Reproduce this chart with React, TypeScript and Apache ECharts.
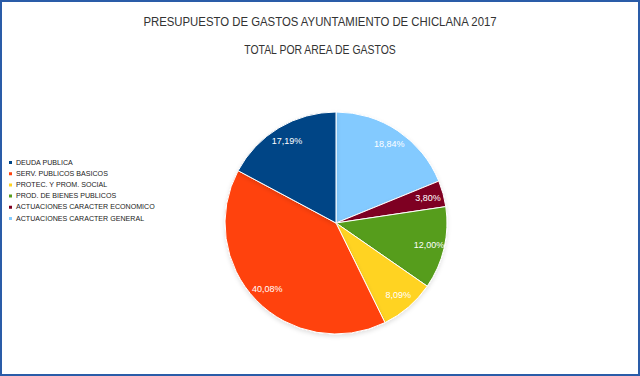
import React, { useEffect, useRef } from "react";
import * as echarts from "echarts";

const titleText = "PRESUPUESTO DE GASTOS AYUNTAMIENTO DE CHICLANA 2017";
const subtitleText = "TOTAL POR AREA DE GASTOS";

// Legend order
const legendOrder = [
  "DEUDA PUBLICA",
  "SERV. PUBLICOS BASICOS",
  "PROTEC. Y PROM. SOCIAL",
  "PROD. DE BIENES PUBLICOS",
  "ACTUACIONES CARACTER ECONOMICO",
  "ACTUACIONES CARACTER GENERAL",
];
// Clockwise order from 12 o'clock
const sliceNames = [
  "ACTUACIONES CARACTER GENERAL",
  "ACTUACIONES CARACTER ECONOMICO",
  "PROD. DE BIENES PUBLICOS",
  "PROTEC. Y PROM. SOCIAL",
  "SERV. PUBLICOS BASICOS",
  "DEUDA PUBLICA",
];
const sliceValues = [18.84, 3.8, 12.0, 8.09, 40.08, 17.19];
const sliceColors = ["#83caff", "#7e0021", "#579d1c", "#ffd320", "#ff420e", "#004586"];

export default function App() {
  const ref = useRef<HTMLDivElement>(null);
  useEffect(() => {
    if (!ref.current) return;
    const chart = echarts.init(ref.current, undefined, { renderer: "svg" });
    const data = sliceNames.map((n, i) => ({
      name: n,
      value: sliceValues[i],
      itemStyle: { color: sliceColors[i] },
    }));
    const center = [334, 221];
    chart.setOption({
      animation: false,
      backgroundColor: "#ffffff",
      graphic: [
        {
          type: "text",
          x: 318,
          y: 20,
          scaleX: 0.875,
          silent: true,
          style: {
            text: titleText,
            textAlign: "center",
            textVerticalAlign: "middle",
            fontFamily: "'Liberation Sans', sans-serif",
            fontSize: 13,
            fill: "#333333",
          },
        },
        {
          type: "text",
          x: 318,
          y: 48,
          scaleX: 0.87,
          silent: true,
          style: {
            text: subtitleText,
            textAlign: "center",
            textVerticalAlign: "middle",
            fontFamily: "'Liberation Sans', sans-serif",
            fontSize: 12,
            fill: "#333333",
          },
        },
      ],
      legend: {
        orient: "vertical",
        left: 0,
        top: 151,
        data: legendOrder,
        icon: "rect",
        itemWidth: 5,
        itemHeight: 5,
        itemGap: 2.2,
        selectedMode: false,
        textStyle: {
          fontFamily: "'Liberation Sans', sans-serif",
          fontSize: 7.1,
          lineHeight: 9,
          color: "#222222",
          padding: [0, 0, 0, -2],
        },
      },
      series: [
        {
          type: "pie",
          center,
          radius: [0, 111],
          startAngle: 90,
          clockwise: true,
          silent: true,
          data,
          label: { show: false },
          labelLine: { show: false },
          itemStyle: {
            borderColor: "#ffffff",
            borderWidth: 1,
            shadowBlur: 4,
            shadowColor: "rgba(0,0,0,0.12)",
            shadowOffsetY: 2,
          },
        },
        {
          type: "pie",
          center,
          radius: [74, 111],
          startAngle: 90,
          clockwise: true,
          silent: true,
          data: data.map((d) => ({ ...d, itemStyle: { color: "rgba(0,0,0,0)" } })),
          itemStyle: { color: "rgba(0,0,0,0)", borderWidth: 0 },
          labelLine: { show: false },
          label: {
            show: true,
            position: "inside",
            color: "#ffffff",
            fontFamily: "'Liberation Sans', sans-serif",
            fontSize: 9,
            fontWeight: "normal",
            formatter: (p: any) => p.value.toFixed(2).replace(".", ",") + "%",
          },
        },
      ],
    });
    return () => chart.dispose();
  }, []);
  return (
    <div
      style={{
        position: "fixed",
        left: 0,
        top: 0,
        width: 640,
        height: 376,
        boxSizing: "border-box",
        border: "2px solid #2a5ca8",
        background: "#fff",
      }}
    >
      <div ref={ref} style={{ width: 636, height: 372 }} />
    </div>
  );
}
